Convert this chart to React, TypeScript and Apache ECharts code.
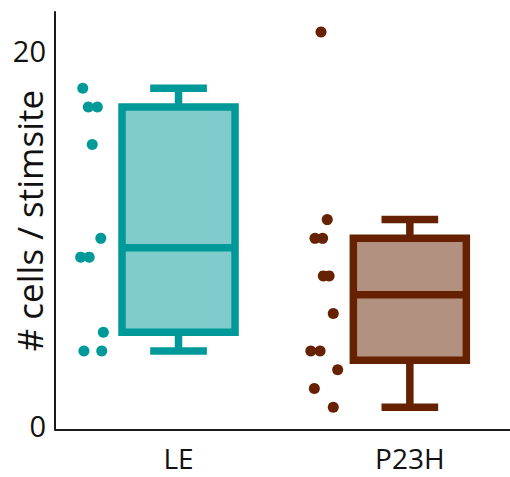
import React, { useEffect, useRef } from "react";
import * as echarts from "echarts";

const categories = ["LE", "P23H"];
const leValues = [18, 17, 17, 15, 10, 9, 9, 5, 4, 4];
const leJitter = [-0.414, -0.39, -0.351, -0.373, -0.336, -0.423, -0.386, -0.325, -0.409, -0.332];
const p23hValues = [21, 11, 10, 10, 8, 8, 6, 4, 4, 3, 2, 1];
const p23hJitter = [-0.384, -0.357, -0.41, -0.377, -0.374, -0.349, -0.331, -0.428, -0.388, -0.312, -0.413, -0.331];
const yTickValues = [0, 20];
const strokeColors = ["#009999", "#662200"];
const fillColors = ["#80CCCC", "#B39180"];

const median = (s: number[]) => {
  const n = s.length;
  return n % 2 ? s[(n - 1) / 2] : (s[n / 2 - 1] + s[n / 2]) / 2;
};

function boxStats(values: number[]) {
  const s = [...values].sort((a, b) => a - b);
  const n = s.length;
  const half = Math.ceil(n / 2);
  const lower = s.slice(0, half);
  const upper = s.slice(n - half);
  const q1 = median(lower);
  const q3 = median(upper);
  const med = median(s);
  const iqr = q3 - q1;
  const lo = Math.min(...s.filter((v) => v >= q1 - 1.5 * iqr));
  const hi = Math.max(...s.filter((v) => v <= q3 + 1.5 * iqr));
  return [lo, q1, med, q3, hi];
}

export default function App() {
  const ref = useRef<HTMLDivElement>(null);
  useEffect(() => {
    if (!ref.current) return;
    const chart = echarts.init(ref.current, null, { renderer: "svg" });
    const groups = [leValues, p23hValues];
    const jitters = [leJitter, p23hJitter];
    const boxData = groups.map((g, i) => [i, ...boxStats(g)]);
    const halfBox = 0.2443;
    const halfCap = 0.1225;
    const lw = 7.5;
    const font = "'Open Sans', sans-serif";
    chart.setOption({
      animation: false,
      textStyle: { fontFamily: font },
      grid: { left: 55, right: 0, top: 12, bottom: 47.7, containLabel: false, outerBoundsMode: "none" },
      xAxis: {
        type: "value",
        min: -0.534,
        max: 1.433,
        splitLine: { show: false },
        axisTick: { show: false },
        axisLine: { show: true, onZero: false, lineStyle: { color: "#1a1a1a", width: 2 } },
        axisLabel: {
          customValues: [0, 1],
          formatter: (v: number) => categories[Math.round(v)] ?? "",
          color: "#111",
          fontSize: 28,
          fontFamily: font,
          margin: 15,
        },
      },
      yAxis: {
        type: "value",
        min: -0.18,
        max: 22.07,
        splitLine: { show: false },
        axisTick: { show: false },
        axisLine: { show: true, onZero: false, lineStyle: { color: "#1a1a1a", width: 2 } },
        axisLabel: {
          customValues: yTickValues,
          color: "#111",
          fontSize: 29,
          fontFamily: font,
          margin: 9,
        },
        name: "# cells / stimsite",
        nameLocation: "middle",
        nameRotate: 90,
        nameGap: 8,
        nameMoveOverlap: false,
        nameTextStyle: { fontSize: 35, color: "#111", fontFamily: font },
      },
      series: [
        {
          type: "custom",
          data: boxData,
          encode: { x: 0, y: [1, 2, 3, 4, 5] },
          renderItem: (params: any, api: any) => {
            const i = api.value(0);
            const lo = api.value(1);
            const q1 = api.value(2);
            const med = api.value(3);
            const q3 = api.value(4);
            const hi = api.value(5);
            const stroke = strokeColors[i];
            const fill = fillColors[i];
            const st = { stroke, lineWidth: lw, fill: null };
            const line = (a: number[], b: number[]) => ({
              type: "line",
              shape: { x1: a[0], y1: a[1], x2: b[0], y2: b[1] },
              style: st,
            });
            const tl = api.coord([i - halfBox, q3]);
            const br = api.coord([i + halfBox, q1]);
            return {
              type: "group",
              children: [
                line(api.coord([i, q3]), api.coord([i, hi])),
                line(api.coord([i - halfCap, hi]), api.coord([i + halfCap, hi])),
                line(api.coord([i, q1]), api.coord([i, lo])),
                line(api.coord([i - halfCap, lo]), api.coord([i + halfCap, lo])),
                {
                  type: "rect",
                  shape: { x: tl[0], y: tl[1], width: br[0] - tl[0], height: br[1] - tl[1] },
                  style: { fill, stroke, lineWidth: lw, lineJoin: "miter" },
                },
                line(api.coord([i - halfBox, med]), api.coord([i + halfBox, med])),
              ],
            };
          },
        },
        ...groups.map((g, i) => ({
          type: "scatter",
          symbol: "circle",
          symbolSize: 11,
          itemStyle: { color: strokeColors[i], opacity: 1 },
          data: g.map((v, k) => [i + jitters[i][k], v]),
        })),
      ],
    });
    return () => chart.dispose();
  }, []);
  return (
    <div
      ref={ref}
      style={{ position: "absolute", left: 0, top: 0, width: 510, height: 477 }}
    />
  );
}
